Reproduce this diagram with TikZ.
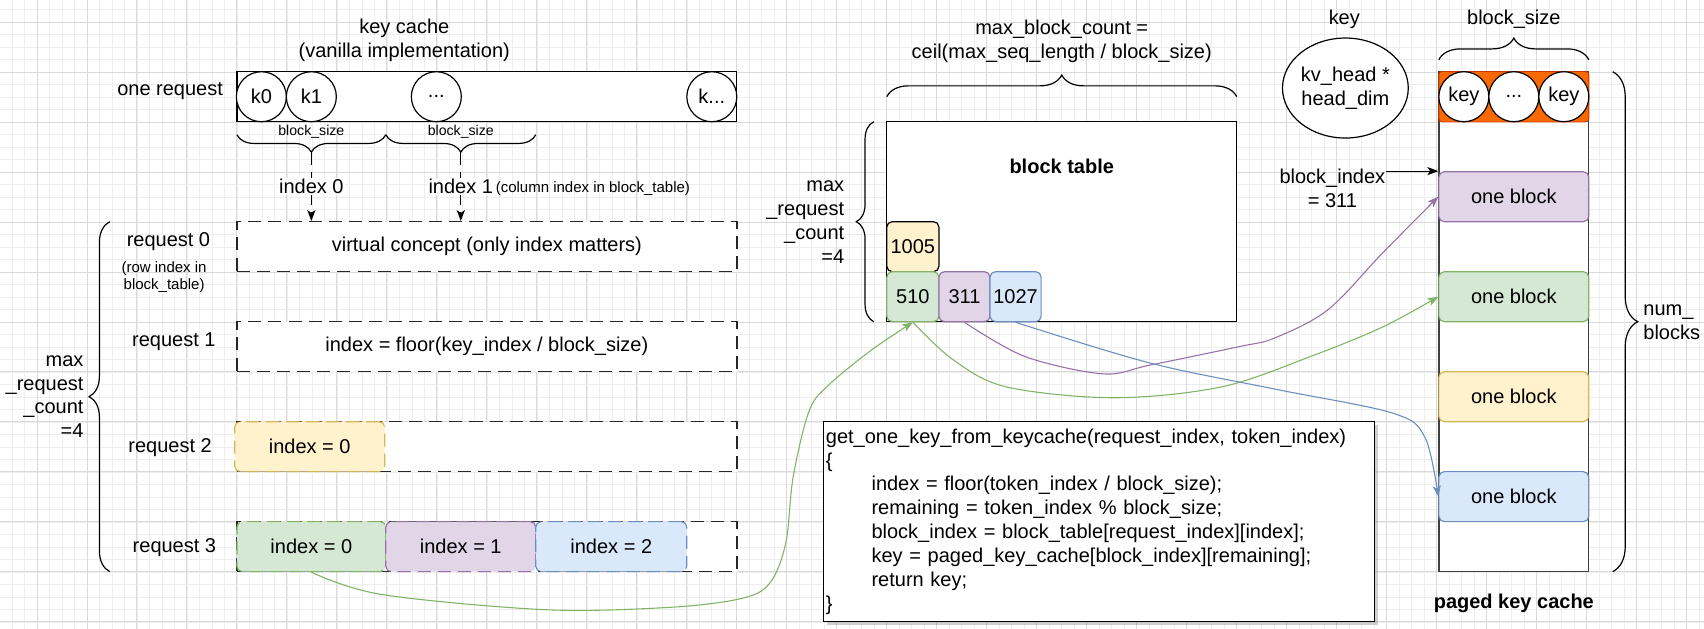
\documentclass[tikz,border=0pt]{standalone}
\usepackage{fontspec}
\setmainfont{Liberation Sans}
\usetikzlibrary{decorations.pathreplacing,arrows.meta,shadows,shapes.geometric}
\definecolor{gfill}{HTML}{D5E8D4}\definecolor{gline}{HTML}{82B366}
\definecolor{pfill}{HTML}{E1D5E7}\definecolor{pline}{HTML}{9673A6}
\definecolor{bfill}{HTML}{DAE8FC}\definecolor{bline}{HTML}{6C8EBF}
\definecolor{yfill}{HTML}{FFF2CC}\definecolor{yline}{HTML}{D6B656}
\definecolor{orfill}{HTML}{FA6800}\definecolor{orline}{HTML}{C73500}
\definecolor{gridmaj}{HTML}{DADADA}\definecolor{gridmin}{HTML}{EEEEEE}
\tikzset{
  mainfont/.style={font=\fontsize{18.4}{22}\selectfont},
  smallfont/.style={font=\fontsize{13.8}{16}\selectfont},
  tinyfont/.style={font=\fontsize{13}{15}\selectfont},
  boldfont/.style={font=\fontsize{18.4}{22}\selectfont\bfseries},
  lbl/.style={inner sep=1pt, align=center},
  dsh/.style={dash pattern=on 12pt off 6.5pt},
  rowbox/.style={draw=black!85, line width=1.3pt, dsh, fill=white, minimum width=460pt, minimum height=46pt, inner sep=0pt},
  cbox/.style={rounded corners=5pt, line width=1.1pt, minimum height=46pt, inner sep=0pt},
  keycirc/.style={circle, draw, fill=white, line width=1.1pt, minimum size=46pt, inner sep=0pt},
  brc/.style={decorate, decoration={brace, amplitude=#1}, line width=1.1pt},
  brcm/.style={decorate, decoration={brace, mirror, amplitude=#1}, line width=1.1pt},
  arr/.style={-{Stealth[length=10pt,width=7.5pt,inset=2.5pt]}},
  curv/.style={line width=1pt, arr},
}
\begin{document}
\begin{tikzpicture}[x=1pt,y=-1pt,mainfont]
\useasboundingbox (0,0) rectangle (1568,578.7);
\fill[white] (0,0) rectangle (1568,578.7);
% grid
\foreach \i in {0,...,136} {\draw[gridmin, line width=0.6pt] ({11+\i*11.5},0) -- ++(0,578.7);}
\foreach \i in {0,...,49} {\draw[gridmin, line width=0.6pt] (0,{8.74+\i*11.5}) -- ++(1568,0);}
\foreach \i in {0,...,33} {\draw[gridmaj, line width=0.8pt] ({34+\i*46},0) -- ++(0,578.7);}
\foreach \i in {0,...,12} {\draw[gridmaj, line width=0.8pt] (0,{20.24+\i*46}) -- ++(1568,0);}

% ---------- left: vanilla key cache ----------
\node[lbl] (title) at (372,37) {key cache\\(vanilla implementation)};
\node[lbl] (onereq) at (156.5,84) {one request};
\node[draw, line width=1.2pt, fill=white, minimum width=460pt, minimum height=46pt, inner sep=0pt] (reqbox) at (448,89) {};
\node[keycirc] (k0) at (240.5,89) {k0};
\node[keycirc] (k1) at (286.5,89) {k1};
\node[keycirc] (kd) at (401.5,89) {...};
\node[keycirc] (kl) at (655,89) {k...};

\draw[brcm=16] (218,124) -- (355,124);
\draw[brcm=16] (355,124) -- (493,124);
\node[lbl, tinyfont] (bs1) at (286.5,121) {block\_size};
\node[lbl, tinyfont] (bs2) at (424,121) {block\_size};
\coordinate (bt1) at (286.5,140);
\coordinate (bt2) at (424,140);

\node[rowbox] (r0) at (448,227) {virtual concept (only index matters)};
\node[rowbox] (r1) at (448,319) {index = floor(key\_index / block\_size)};
\node[rowbox] (r2) at (448,411) {};
\node[rowbox] (r3) at (448,503) {};

\draw[line width=1.1pt, dsh, arr] (bt1) -- node[lbl, fill=white] (i0) {index 0} (bt1 |- r0.north);
\draw[line width=1.1pt, dsh, arr] (bt2) -- node[lbl, fill=white] (i1) {index 1} (bt2 |- r0.north);
\node[lbl, smallfont, anchor=west] (colidx) at (455,174) {(column index in block\_table)};

\node[cbox, dsh, draw=yline, fill=yfill, minimum width=138pt] (y2) at (285,411) {index = 0};
\node[cbox, dsh, draw=gline, fill=gfill, minimum width=137pt] (g3) at (286.5,503) {index = 0};
\node[cbox, dsh, draw=pline, fill=pfill, minimum width=138pt] (p3) at (424,503) {index = 1};
\node[cbox, dsh, draw=bline, fill=bfill, minimum width=139pt] (b3) at (562.5,503) {index = 2};

\node[lbl] (rq0) at (155,222) {request 0};
\node[lbl, smallfont] (rq0n) at (151,255) {(row index in\\block\_table)};
\node[lbl] (rq1) at (160,314) {request 1};
\node[lbl] (rq2) at (156.5,411.5) {request 2};
\node[lbl] (rq3) at (160.5,503.5) {request 3};

\draw[brc=19] (101,526) -- (101,204);
\node[lbl, align=right, anchor=east] (mrc1) at (78,365) {max\\\_request\\\_count\\=4};

% ---------- middle: block table ----------
\node[lbl] (mbc) at (977,38) {max\_block\_count =\\ceil(max\_seq\_length / block\_size)};
\draw[brc=20] (816,89) -- (1138,89);
\node[draw, line width=1.2pt, fill=white, minimum width=322pt, minimum height=184pt, inner sep=0pt] (bt) at (977,204) {};
\node[lbl, boldfont] (btl) at (977,153) {block table};
\draw[brc=16] (804,296) -- (804,112);
\node[lbl, align=right, anchor=east] (mrc2) at (778,204.5) {max\\\_request\\\_count\\=4};

\node[cbox, draw=black, fill=yfill, minimum width=48pt] (b1005) at (840,227) {1005};
\node[cbox, draw=gline, fill=gfill, minimum width=48pt] (b510) at (840,273) {510};
\node[cbox, draw=pline, fill=pfill, minimum width=47pt] (b311) at (887.5,273) {311};
\node[cbox, draw=bline, fill=bfill, minimum width=47pt] (b1027) at (934.5,273) {1027};

% ---------- right: paged key cache ----------
\node[lbl] (keyl) at (1237,18) {key};
\node[ellipse, draw, fill=white, line width=1.1pt, minimum width=92pt, minimum height=92pt, inner sep=0pt, align=center] (keyell) at (1238,81) {kv\_head *\\head\_dim};
\node[lbl] (bsr) at (1393,18) {block\_size};
\draw[brc=20] (1324,55) -- (1462,55);
\node[draw=black!75, line width=1.2pt, fill=white, minimum width=138pt, minimum height=460pt, inner sep=0pt] (col) at (1393,296) {};
\node[draw=orline, fill=orfill, rounded corners=3pt, line width=0.8pt, minimum width=138pt, minimum height=46.5pt, inner sep=0pt] (strip) at (1393,89) {};
\node[keycirc] (c1) at (1347,89) {key};
\node[keycirc] (c2) at (1393,89) {...};
\node[keycirc] (c3) at (1439,89) {key};
\node[cbox, draw=pline, fill=pfill, minimum width=138pt] (pb) at (1393,181) {one block};
\node[cbox, draw=gline, fill=gfill, minimum width=138pt] (gb) at (1393,273) {one block};
\node[cbox, draw=yline, fill=yfill, minimum width=138pt] (yb) at (1393,365) {one block};
\node[cbox, draw=bline, fill=bfill, minimum width=138pt] (bb) at (1393,457) {one block};
\node[lbl] (bi) at (1226,173) {block\_index\\= 311};
\draw[line width=1.1pt, arr] (bi.east |- pb.north west) -- (pb.north west);
\draw[brc=23] (1484,66) -- (1484,526);
\node[lbl, align=left, anchor=west] (nb) at (1511,296.5) {num\_\\blocks};
\node[lbl, boldfont] (pkc) at (1393,555) {paged key cache};

% ---------- code box ----------
\node[draw, line width=1.3pt, fill=white, drop shadow={shadow xshift=3pt, shadow yshift=-3pt, opacity=0.3, fill=black!60}, minimum width=507pt, minimum height=184pt, text width=503pt, inner xsep=2pt, align=left] (code) at (1011.5,480) {get\_one\_key\_from\_keycache(request\_index, token\_index)\\
\{\\
\hspace*{42pt}index = floor(token\_index / block\_size);\\
\hspace*{42pt}remaining = token\_index \% block\_size;\\
\hspace*{42pt}block\_index = block\_table[request\_index][index];\\
\hspace*{42pt}key = paged\_key\_cache[block\_index][remaining];\\
\hspace*{42pt}return key;\\
\}};

% ---------- curves ----------
\draw[gline, curv] plot[smooth, tension=0.55] coordinates {(g3.south) (351,547) (501,561) (614,559) (681,551) (708,537) (723,500) (730,438) (745,377) (764,353) (802,322) (b510.south)};
\draw[gline, curv] plot[smooth, tension=0.55] coordinates {(b510.south) (877,331) (926,356) (1025,366) (1124,356) (1206,328) (1272,301) (gb.west)};
\draw[pline, curv] plot[smooth, tension=0.55] coordinates {(b311.south) (943,328) (1015,344) (1058,336) (1140,319) (1173,311) (1222,285) (1272,233) (pb.west)};
\draw[bline, curv] plot[smooth, tension=0.55] coordinates {(b1027.south) (1058,334) (1173,358) (1281,380) (1311,402) (bb.west)};
\end{tikzpicture}
\end{document}
